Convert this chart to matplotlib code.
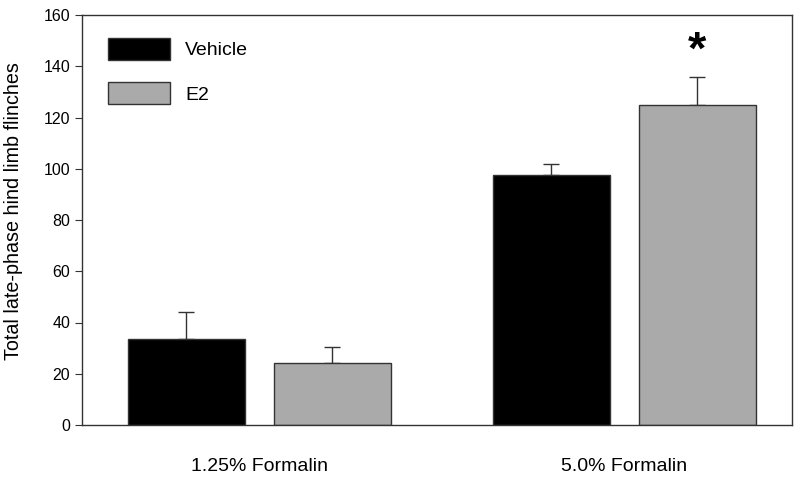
import numpy as np
import matplotlib.pyplot as plt
import matplotlib.patches as mpatches

plt.rcParams['font.family'] = ['Liberation Sans', 'DejaVu Sans']

# Dati
groups = ['1.25% Formalin', '5.0% Formalin']
vehicle = [33.5, 97.4]
vehicle_err = [10.6, 4.6]
e2 = [24.3, 124.7]
e2_err = [6.1, 11.0]

fig = plt.figure(figsize=(8, 4.78), dpi=100)
ax = fig.add_axes([82 / 800, 1 - 425 / 478, 710 / 800, 410 / 478])

x = np.arange(len(groups))
w = 0.32
off = 0.2

ax.bar(x - off, vehicle, w, color='black', edgecolor='#333333', linewidth=1, zorder=2)
ax.bar(x + off, e2, w, color='#aaaaaa', edgecolor='#333333', linewidth=1, zorder=2)
ax.errorbar(x - off, vehicle, yerr=[np.zeros(2), vehicle_err], fmt='none',
            ecolor='#333333', elinewidth=1, capsize=6, capthick=1, zorder=1)
ax.errorbar(x + off, e2, yerr=[np.zeros(2), e2_err], fmt='none',
            ecolor='#333333', elinewidth=1, capsize=6, capthick=1, zorder=1)

ax.text(x[1] + off, 145.5, '*', ha='center', va='center', fontsize=34, fontweight='bold')

ax.set_xlim(-0.486, 1.459)
ax.set_ylim(0, 160)
ax.set_yticks(range(0, 161, 20))
ax.set_xticks(x)
ax.set_xticklabels(groups, fontsize=14)
ax.tick_params(axis='x', length=0, pad=24)
ax.tick_params(axis='y', labelsize=11.5, length=5, direction='out', color='#333333')
ax.set_ylabel('Total late-phase hind limb flinches', fontsize=14.2)
ax.yaxis.set_label_coords(-0.083, 0.522)
for s in ax.spines.values():
    s.set_color('#333333')
    s.set_linewidth(1)

handles = [mpatches.Patch(facecolor='black', edgecolor='#333333', label='Vehicle'),
           mpatches.Patch(facecolor='#aaaaaa', edgecolor='#333333', label='E2')]
ax.legend(handles=handles, loc='upper left', frameon=False, fontsize=14,
          handlelength=3.2, handleheight=1.36, labelspacing=1.15, handletextpad=0.77,
          borderpad=0, borderaxespad=0, bbox_to_anchor=(26 / 710, 0.944))

fig.savefig('out.png', dpi=100)
